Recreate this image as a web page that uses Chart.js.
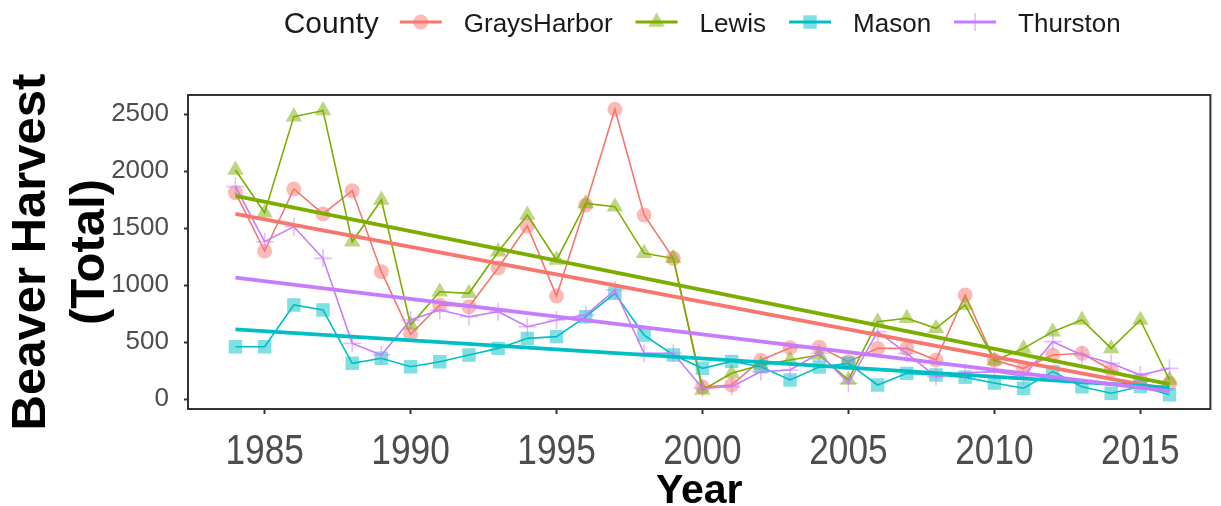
<!DOCTYPE html>
<html>
<head>
<meta charset="utf-8">
<title>Beaver Harvest by County</title>
<script src="https://cdn.jsdelivr.net/npm/chart.js@4.4.1/dist/chart.umd.min.js"></script>
<style>
  html, body { margin: 0; padding: 0; background: #fff; }
  #wrap { width: 1221px; height: 506px; }
</style>
</head>
<body>
<div id="wrap"><canvas id="chart" width="1221" height="506"></canvas></div>
<script>
// ── Data ───────────────────────────────────────────────────────────────
const years = [1984, 1985, 1986, 1987, 1988, 1989, 1990, 1991, 1992, 1993, 1994,
               1995, 1996, 1997, 1998, 1999, 2000, 2001, 2002, 2003, 2004, 2005,
               2006, 2007, 2008, 2009, 2010, 2011, 2012, 2013, 2014, 2015, 2016];

const graysHarbor = [1810, 1298, 1842, 1623, 1827, 1117, 567, 825, 810, 1149, 1518,
                     903, 1702, 2542, 1614, 1234, 105, 123, 340, 450, 455, 327,
                     444, 444, 342, 912, 340, 269, 386, 401, 254, 167, 138];

const lewis = [2009, 1634, 2477, 2530, 1380, 1746, 649, 941, 927, 1292, 1614,
               1219, 1716, 1687, 1278, 1234, 79, 225, 298, 342, 386, 167,
               678, 708, 620, 825, 335, 444, 591, 693, 444, 693, 167];

const mason = [459, 459, 825, 781, 313, 357, 283, 327, 386, 444, 532,
               547, 722, 927, 561, 386, 269, 330, 283, 167, 280, 313,
               123, 225, 210, 190, 140, 95, 240, 108, 50, 110, 38];

const thurston = [1863, 1380, 1512, 1234, 488, 386, 693, 781, 722, 766, 634,
                  693, 737, 956, 401, 401, 94, 108, 240, 254, 401, 138,
                  591, 400, 196, 230, 240, 200, 503, 386, 313, 210, 269];

// fitted trend lines, start and end value as drawn
const trendYears       = [1984, 2016];
const trendGraysHarbor = [1623, 80];
const trendLewis       = [1781, 130];
const trendMason       = [611, 100];
const trendThurston    = [1064, 70];

const counties = ['GraysHarbor', 'Lewis', 'Mason', 'Thurston'];
const xTicks   = [1985, 1990, 1995, 2000, 2005, 2010, 2015];
const yTicks   = [0, 500, 1000, 1500, 2000, 2500];

// ── Styling ────────────────────────────────────────────────────────────
const COLORS  = ['#F8766D', '#7CAE00', '#00BFC4', '#C77CFF'];
const MARKERS = ['circle', 'triangle', 'rect', 'cross'];
const RADII   = [7.5, 9.5, 9.5, 9];
const FONT    = '"Liberation Sans", Arial, sans-serif';

function rgba(hex, a) {
  const n = parseInt(hex.slice(1), 16);
  return `rgba(${(n >> 16) & 255},${(n >> 8) & 255},${n & 255},${a})`;
}

function pairs(xs, ys) {
  return xs.map((x, i) => ({ x, y: ys[i] }));
}

const series = [graysHarbor, lewis, mason, thurston];
const trends = [trendGraysHarbor, trendLewis, trendMason, trendThurston];

const datasets = [];
series.forEach((vals, i) => {
  const isCross = MARKERS[i] === 'cross';
  datasets.push({
    label: counties[i],
    data: pairs(years, vals),
    borderColor: COLORS[i],
    borderWidth: 1.6,
    tension: 0,
    pointStyle: MARKERS[i],
    pointRadius: RADII[i],
    pointBackgroundColor: rgba(COLORS[i], 0.5),
    pointBorderColor: rgba(COLORS[i], 0.5),
    pointBorderWidth: isCross ? 1.6 : 0,
    order: 4 + (3 - i),
  });
});
trends.forEach((vals, i) => {
  datasets.push({
    label: counties[i] + ' trend',
    data: pairs(trendYears, vals),
    borderColor: COLORS[i],
    borderWidth: 3.8,
    pointRadius: 0,
    tension: 0,
    order: 3 - i,
  });
});

// ── Plugins: panel border, condensed year labels, ggplot-style legend ──
const panelBorder = {
  id: 'panelBorder',
  afterDatasetsDraw(chart) {
    const { ctx, chartArea: a } = chart;
    ctx.save();
    ctx.strokeStyle = '#333333';
    ctx.lineWidth = 2;
    ctx.strokeRect(a.left, a.top, a.right - a.left, a.bottom - a.top);
    ctx.restore();
  }
};

// the year labels in the original are set in a narrow face, so squeeze them
const narrowYearLabels = {
  id: 'narrowYearLabels',
  afterDraw(chart) {
    const { ctx } = chart;
    const sx = chart.scales.x;
    ctx.save();
    ctx.fillStyle = '#4D4D4D';
    ctx.font = '42px ' + FONT;
    ctx.textAlign = 'center';
    ctx.textBaseline = 'alphabetic';
    sx.ticks.forEach(t => {
      ctx.save();
      ctx.translate(sx.getPixelForValue(t.value), 464);
      ctx.scale(0.84, 1);
      ctx.fillText(String(t.value), 0, 0);
      ctx.restore();
    });
    ctx.restore();
  }
};

function drawMarker(ctx, style, x, y, r, color) {
  ctx.save();
  ctx.fillStyle = rgba(color, 0.5);
  ctx.strokeStyle = rgba(color, 0.5);
  ctx.lineWidth = 1.6;
  ctx.beginPath();
  if (style === 'circle') {
    ctx.arc(x, y, r, 0, Math.PI * 2);
    ctx.fill();
  } else if (style === 'triangle') {
    for (let k = 0; k < 3; k++) {
      const ang = k * 2 * Math.PI / 3;
      const px = x + Math.sin(ang) * r, py = y - Math.cos(ang) * r;
      k ? ctx.lineTo(px, py) : ctx.moveTo(px, py);
    }
    ctx.closePath();
    ctx.fill();
  } else if (style === 'rect') {
    const s = r * Math.SQRT1_2;
    ctx.rect(x - s, y - s, 2 * s, 2 * s);
    ctx.fill();
  } else {
    ctx.moveTo(x - r, y); ctx.lineTo(x + r, y);
    ctx.moveTo(x, y - r); ctx.lineTo(x, y + r);
    ctx.stroke();
  }
  ctx.restore();
}

const countyLegend = {
  id: 'countyLegend',
  afterDraw(chart) {
    const { ctx, chartArea: a } = chart;
    const textY = 25, keyY = 22;
    const keyW = 42, gapTitle = 21, gapKey = 22, gapItem = 23;

    ctx.save();
    ctx.textBaseline = 'middle';
    ctx.textAlign = 'left';
    ctx.font = '30px ' + FONT;
    const titleW = ctx.measureText('County').width;
    ctx.font = '26px ' + FONT;
    const widths = counties.map(c => ctx.measureText(c).width);

    let total = titleW + gapTitle;
    widths.forEach((w, i) => {
      total += keyW + gapKey + w + (i < widths.length - 1 ? gapItem : 0);
    });

    let x = (a.left + a.right) / 2 - total / 2 + 3;
    ctx.fillStyle = '#1a1a1a';
    ctx.font = '30px ' + FONT;
    ctx.fillText('County', x, textY);
    x += titleW + gapTitle;

    ctx.font = '26px ' + FONT;
    counties.forEach((name, i) => {
      ctx.strokeStyle = COLORS[i];
      ctx.lineWidth = 3;
      ctx.beginPath();
      ctx.moveTo(x, keyY);
      ctx.lineTo(x + keyW, keyY);
      ctx.stroke();
      drawMarker(ctx, MARKERS[i], x + keyW / 2, keyY, RADII[i], COLORS[i]);
      x += keyW + gapKey;
      ctx.fillStyle = '#1a1a1a';
      ctx.fillText(name, x, textY);
      x += widths[i] + gapItem;
    });
    ctx.restore();
  }
};

// ── Chart ──────────────────────────────────────────────────────────────
new Chart(document.getElementById('chart'), {
  type: 'line',
  data: { datasets },
  plugins: [panelBorder, narrowYearLabels, countyLegend],
  options: {
    responsive: false,
    animation: false,
    layout: { padding: { top: 95, right: 6, left: 0, bottom: 0 } },
    plugins: {
      legend: { display: false },
      tooltip: { enabled: false },
    },
    scales: {
      x: {
        type: 'linear',
        min: 1982.375,
        max: 2017.4,
        afterFit: s => { s.height = 97; },
        afterBuildTicks: s => { s.ticks = xTicks.map(v => ({ value: v })); },
        border: { display: false },
        grid: { drawOnChartArea: false, drawTicks: true, tickLength: 5, tickWidth: 2, tickColor: '#333333' },
        ticks: {
          color: 'rgba(0,0,0,0)',
          padding: 8,
          maxRotation: 0,
          autoSkip: false,
          font: { family: FONT, size: 30 },
          callback: v => String(v),
        },
        title: {
          display: true,
          text: 'Year',
          color: '#000',
          padding: { top: 0, bottom: 0 },
          font: { family: FONT, size: 41, weight: 'bold', lineHeight: 0.7 },
        },
      },
      y: {
        min: -87.7,
        max: 2666.7,
        afterFit: s => { s.width = 188; },
        afterBuildTicks: s => { s.ticks = yTicks.map(v => ({ value: v })); },
        border: { display: false },
        grid: { drawOnChartArea: false, drawTicks: true, tickLength: 4, tickWidth: 2, tickColor: '#333333' },
        ticks: {
          color: '#4D4D4D',
          padding: 15,
          font: { family: FONT, size: 26 },
          callback: v => String(v),
        },
        title: {
          display: true,
          text: ['Beaver Harvest', '(Total)'],
          color: '#000',
          padding: { top: 2, bottom: 0 },
          font: { family: FONT, size: 49, weight: 'bold', lineHeight: 1.2 },
        },
      },
    },
  },
});
</script>
</body>
</html>
